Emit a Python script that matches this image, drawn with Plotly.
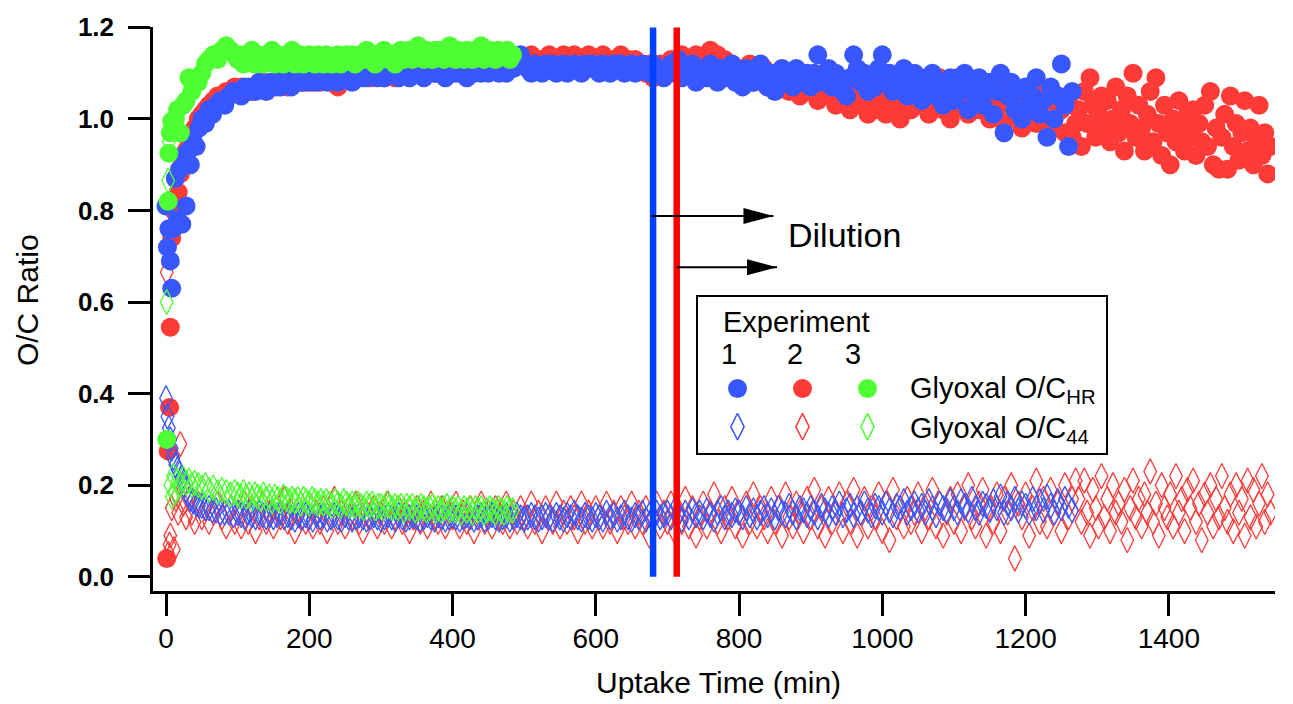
import plotly.graph_objects as go

# ---------------- data ----------------
# Experiment 1 (blue)
t1 = [0, 2, 4, 6, 8, 10, 13, 16, 19, 22, 25, 28, 31, 34, 38, 42, 46, 50, 55, 60, 65, 70, 76, 82, 88, 94,
      100, 105, 110, 115, 120, 125, 130, 135, 140, 145,
      150, 155, 160, 165, 170, 175, 180, 185, 190, 195,
      200, 205, 210, 215, 220, 225, 230, 235, 240, 245,
      250, 255, 260, 265, 270, 275, 280, 285, 290, 295,
      300, 305, 310, 315, 320, 325, 330, 335, 340, 345,
      350, 355, 360, 365, 370, 375, 380, 385, 390, 395,
      400, 405, 410, 415, 420, 425, 430, 435, 440, 445,
      450, 455, 460, 465, 470, 475, 480, 485, 490, 495,
      500, 505, 510, 515, 520, 525, 530, 535, 540, 545,
      550, 555, 560, 565, 570, 575, 580, 585, 590, 595,
      600, 605, 610, 615, 620, 625, 630, 635, 640, 645,
      650, 655, 660, 665, 670, 675, 680, 685, 690, 695,
      700, 705, 710, 715, 720, 725, 730, 735, 740, 745,
      750, 755, 760, 765, 770, 775, 780, 785, 790, 795,
      800, 805, 810, 815, 820, 825, 830, 835, 840, 845,
      850, 855, 860, 865, 870, 875, 880, 885, 890, 895,
      900, 905, 910, 915, 920, 925, 930, 935, 940, 945,
      950, 955, 960, 965, 970, 975, 980, 985, 990, 995,
      1000, 1005, 1010, 1015, 1020, 1025, 1030, 1035, 1040, 1045,
      1050, 1055, 1060, 1065, 1070, 1075, 1080, 1085, 1090, 1095,
      1100, 1105, 1110, 1115, 1120, 1125, 1130, 1135, 1140, 1145,
      1150, 1155, 1160, 1165, 1170, 1175, 1180, 1185, 1190, 1195,
      1200, 1205, 1210, 1215, 1220, 1225, 1230, 1235, 1240, 1245,
      1250, 1255, 1260, 1265]
hr1 = [0.81, 0.72, 0.76, 0.69, 0.63, 0.76, 0.87, 0.78, 0.89, 0.77, 0.92, 0.81, 0.93, 0.90, 0.95, 0.94, 0.98, 1.00, 0.99, 1.02,
       1.01, 1.03, 1.04, 1.03, 1.05, 1.06,
       1.06, 1.05, 1.07, 1.06, 1.07, 1.06, 1.08, 1.07, 1.06, 1.08,
       1.07, 1.08, 1.07, 1.09, 1.08, 1.07, 1.08, 1.09, 1.08, 1.09,
       1.08, 1.09, 1.08, 1.10, 1.09, 1.08, 1.09, 1.10, 1.08, 1.09,
       1.10, 1.09, 1.08, 1.10, 1.09, 1.10, 1.09, 1.10, 1.11, 1.09,
       1.10, 1.09, 1.11, 1.10, 1.10, 1.09, 1.11, 1.10, 1.09, 1.10,
       1.11, 1.10, 1.09, 1.10, 1.11, 1.10, 1.10, 1.11, 1.09, 1.10,
       1.11, 1.10, 1.10, 1.11, 1.09, 1.11, 1.10, 1.12, 1.10, 1.11,
       1.10, 1.11, 1.12, 1.10, 1.11, 1.10, 1.12, 1.11, 1.13, 1.14,
       1.12, 1.11, 1.10, 1.12, 1.11, 1.10, 1.12, 1.11, 1.12, 1.10,
       1.11, 1.12, 1.10, 1.11, 1.12, 1.11, 1.10, 1.12, 1.11, 1.12,
       1.11, 1.10, 1.12, 1.11, 1.10, 1.12, 1.11, 1.12, 1.10, 1.11,
       1.12, 1.10, 1.11, 1.12, 1.11, 1.10, 1.12, 1.11, 1.10, 1.09,
       1.11, 1.12, 1.10, 1.13, 1.09, 1.11, 1.10, 1.12, 1.08, 1.10,
       1.11, 1.09, 1.12, 1.10, 1.08, 1.11, 1.09, 1.10, 1.12, 1.08,
       1.10, 1.07, 1.11, 1.09, 1.08, 1.10, 1.12, 1.09, 1.07, 1.10,
       1.06, 1.09, 1.11, 1.08, 1.10, 1.07, 1.11, 1.09, 1.08, 1.10,
       1.07, 1.10, 1.14, 1.08, 1.09, 1.11, 1.07, 1.10, 1.08, 1.06,
       1.05, 1.09, 1.14, 1.11, 1.08, 1.10, 1.06, 1.09, 1.07, 1.11,
       1.14, 1.08, 1.10, 1.06, 1.09, 1.07, 1.11, 1.05, 1.08, 1.10,
       1.07, 1.04, 1.09, 1.06, 1.10, 1.05, 1.08, 1.03, 1.07, 1.09,
       1.04, 1.09, 1.06, 1.10, 1.02, 1.07, 1.05, 1.09, 1.03, 1.06,
       1.08, 1.01, 1.06, 1.10, 0.97, 1.05, 1.08, 1.02, 1.06, 1.00,
       1.07, 1.03, 1.05, 1.09, 1.01, 1.04, 0.96, 1.07, 1.00, 1.05,
       1.12, 1.03, 0.94, 1.06]
oc44_1 = [0.39, 0.35, 0.325, 0.30, 0.28, 0.26, 0.245, 0.235, 0.225, 0.215, 0.20, 0.19, 0.18, 0.17, 0.165, 0.16, 0.155, 0.155,
          0.15, 0.15, 0.145, 0.145, 0.14, 0.14, 0.14, 0.135,
          0.14, 0.135, 0.13, 0.14, 0.135, 0.13, 0.14, 0.135, 0.13, 0.135,
          0.13, 0.135, 0.14, 0.13, 0.135, 0.13, 0.125, 0.135, 0.13, 0.135,
          0.13, 0.125, 0.135, 0.13, 0.135, 0.125, 0.13, 0.135, 0.13, 0.125,
          0.135, 0.13, 0.125, 0.13, 0.135, 0.13, 0.125, 0.13, 0.135, 0.13,
          0.125, 0.13, 0.135, 0.13, 0.125, 0.135, 0.13, 0.125, 0.13, 0.135,
          0.13, 0.125, 0.13, 0.135, 0.13, 0.125, 0.135, 0.13, 0.125, 0.13,
          0.135, 0.13, 0.125, 0.13, 0.135, 0.13, 0.125, 0.13, 0.135, 0.125,
          0.13, 0.135, 0.13, 0.125, 0.13, 0.135, 0.125, 0.13, 0.135, 0.13,
          0.125, 0.13, 0.135, 0.13, 0.125, 0.13, 0.135, 0.13, 0.125, 0.135,
          0.13, 0.125, 0.135, 0.13, 0.14, 0.13, 0.125, 0.135, 0.13, 0.125,
          0.135, 0.13, 0.125, 0.14, 0.13, 0.135, 0.125, 0.13, 0.14, 0.13,
          0.125, 0.135, 0.13, 0.14, 0.125, 0.135, 0.13, 0.14, 0.13, 0.135,
          0.14, 0.13, 0.145, 0.135, 0.125, 0.14, 0.13, 0.145, 0.135, 0.14,
          0.13, 0.145, 0.135, 0.125, 0.14, 0.15, 0.13, 0.14, 0.135, 0.145,
          0.14, 0.13, 0.15, 0.135, 0.145, 0.13, 0.14, 0.15, 0.135, 0.145,
          0.13, 0.15, 0.14, 0.135, 0.155, 0.14, 0.13, 0.15, 0.145, 0.135,
          0.15, 0.14, 0.13, 0.155, 0.145, 0.135, 0.15, 0.14, 0.16, 0.135,
          0.145, 0.155, 0.135, 0.15, 0.14, 0.16, 0.145, 0.135, 0.155, 0.15,
          0.14, 0.16, 0.145, 0.135, 0.155, 0.15, 0.165, 0.14, 0.15, 0.16,
          0.145, 0.155, 0.14, 0.165, 0.15, 0.135, 0.16, 0.15, 0.145, 0.165,
          0.15, 0.14, 0.165, 0.155, 0.145, 0.17, 0.15, 0.14, 0.16, 0.155,
          0.145, 0.165, 0.15, 0.175, 0.14, 0.16, 0.15, 0.17, 0.145, 0.16,
          0.155, 0.14, 0.17, 0.15, 0.165, 0.145, 0.175, 0.155, 0.14, 0.165,
          0.15, 0.17, 0.155, 0.145]

# Experiment 2 (red)
t2 = [1, 3, 5, 6, 8, 11, 14, 17, 20, 24, 28, 32, 36, 40, 45, 50, 55, 60, 66, 72, 78, 84, 90, 96,
      100, 105, 110, 115, 120, 125, 130, 135, 140, 145,
      150, 155, 160, 165, 170, 175, 180, 185, 190, 195,
      200, 205, 210, 215, 220, 225, 230, 235, 240, 245,
      250, 255, 260, 265, 270, 275, 280, 285, 290, 295,
      300, 305, 310, 315, 320, 325, 330, 335, 340, 345,
      350, 355, 360, 365, 370, 375, 380, 385, 390, 395,
      400, 405, 410, 415, 420, 425, 430, 435, 440, 445,
      450, 455, 460, 465, 470, 475, 480, 485, 490, 495,
      500, 505, 510, 515, 520, 525, 530, 535, 540, 545,
      550, 555, 560, 565, 570, 575, 580, 585, 590, 595,
      600, 605, 610, 615, 620, 625, 630, 635, 640, 645,
      650, 655, 660, 665, 670, 675, 680, 685, 690, 695,
      700, 705, 710, 715, 720, 725, 730, 735, 740, 745,
      750, 755, 760, 765, 770, 775, 780, 785, 790, 795,
      800, 805, 810, 815, 820, 825, 830, 835, 840, 845,
      850, 855, 860, 865, 870, 875, 880, 885, 890, 895,
      900, 905, 910, 915, 920, 925, 930, 935, 940, 945,
      950, 955, 960, 965, 970, 975, 980, 985, 990, 995,
      1000, 1005, 1010, 1015, 1020, 1025, 1030, 1035, 1040, 1045,
      1050, 1055, 1060, 1065, 1070, 1075, 1080, 1085, 1090, 1095,
      1100, 1105, 1110, 1115, 1120, 1125, 1130, 1135, 1140, 1145,
      1150, 1155, 1160, 1165, 1170, 1175, 1180, 1185, 1190, 1195,
      1200, 1205, 1210, 1215, 1220, 1225, 1230, 1235, 1240, 1245,
      1250, 1255, 1260, 1265, 1270,
      1274, 1278, 1282, 1286, 1290, 1294, 1298, 1302, 1306, 1310,
      1314, 1318, 1322, 1326, 1330, 1334, 1338, 1342, 1346, 1350,
      1354, 1358, 1362, 1366, 1370, 1374, 1378, 1382, 1386, 1390,
      1394, 1398, 1402, 1406, 1410, 1414, 1418, 1422, 1426, 1430,
      1434, 1438, 1442, 1446, 1450, 1454, 1458, 1462, 1466, 1470,
      1474, 1478, 1482, 1486, 1490, 1494, 1498, 1502, 1506, 1510,
      1514, 1518, 1522, 1526, 1530, 1534, 1538, 1542]
hr2 = [0.04, 0.275, 0.37, 0.545, 0.74, 0.80, 0.82, 0.84, 0.88, 0.91, 0.93, 0.95, 0.97, 0.98, 1.00, 1.01, 1.02, 1.03,
       1.04, 1.05, 1.05, 1.06, 1.06, 1.07,
       1.06, 1.07, 1.06, 1.07, 1.06, 1.07, 1.07, 1.08, 1.07, 1.07,
       1.08, 1.07, 1.08, 1.08, 1.07, 1.08, 1.08, 1.09, 1.08, 1.08,
       1.09, 1.08, 1.09, 1.08, 1.09, 1.09, 1.08, 1.09, 1.07, 1.09,
       1.09, 1.10, 1.09, 1.09, 1.10, 1.09, 1.10, 1.09, 1.10, 1.10,
       1.10, 1.09, 1.10, 1.10, 1.09, 1.10, 1.10, 1.11, 1.10, 1.10,
       1.10, 1.11, 1.10, 1.10, 1.11, 1.10, 1.10, 1.11, 1.10, 1.11,
       1.10, 1.11, 1.11, 1.10, 1.11, 1.11, 1.10, 1.11, 1.11, 1.12,
       1.11, 1.12, 1.11, 1.12, 1.13, 1.11, 1.12, 1.12, 1.13, 1.12,
       1.13, 1.12, 1.14, 1.12, 1.13, 1.11, 1.13, 1.14, 1.12, 1.13,
       1.12, 1.14, 1.13, 1.12, 1.14, 1.13, 1.12, 1.13, 1.14, 1.12,
       1.13, 1.12, 1.14, 1.13, 1.11, 1.13, 1.12, 1.14, 1.12, 1.13,
       1.12, 1.13, 1.11, 1.12, 1.10, 1.12, 1.09, 1.11, 1.12, 1.10,
       1.12, 1.13, 1.11, 1.12, 1.14, 1.12, 1.13, 1.11, 1.14, 1.13,
       1.12, 1.14, 1.15, 1.13, 1.14, 1.12, 1.13, 1.11, 1.12, 1.10,
       1.11, 1.09, 1.10, 1.12, 1.08, 1.10, 1.09, 1.11, 1.07, 1.09,
       1.08, 1.10, 1.07, 1.09, 1.06, 1.08, 1.10, 1.05, 1.07, 1.09,
       1.06, 1.08, 1.04, 1.07, 1.09, 1.05, 1.07, 1.03, 1.06, 1.08,
       1.04, 1.02, 1.06, 1.08, 1.03, 1.05, 1.01, 1.07, 1.04, 1.02,
       1.05, 1.01, 1.06, 1.03, 1.07, 1.00, 1.04, 1.06, 1.02, 1.05,
       1.08, 1.03, 1.05, 1.01, 1.06, 1.04, 1.09, 1.02, 1.05, 1.00,
       1.07, 1.03, 1.05, 1.08, 1.01, 1.04, 1.06, 1.02, 1.07, 1.04,
       1.00, 1.05, 1.02, 1.07, 0.99, 1.04, 1.06, 1.01, 1.03, 0.98,
       1.05, 1.02, 1.07, 0.99, 1.03, 1.06, 1.00, 1.04, 0.98, 1.05,
       1.02, 0.97, 1.04, 0.96, 0.99,
       1.02, 0.94, 1.06, 0.99, 1.09, 1.03, 0.96, 1.01, 1.05, 0.98,
       1.04, 0.95, 1.00, 1.07, 0.97, 1.02, 0.93, 1.05, 0.99, 1.10,
       0.96, 1.03, 0.98, 0.93, 1.01, 1.06, 0.95, 1.09, 0.99, 0.92,
       1.03, 0.97, 0.90, 1.00, 0.95, 1.04, 0.98, 0.93, 1.01, 0.96,
       1.02, 0.92, 0.99, 0.95, 1.03, 0.94, 1.06, 0.90, 0.98, 0.89,
       0.96, 1.01, 0.89, 1.05, 0.94, 0.99, 0.91, 0.97, 1.04, 0.93,
       0.98, 0.90, 0.95, 1.03, 0.92, 0.97, 0.88, 0.94]
oc44_2 = [0.665, 0.05, 0.07, 0.09, 0.15, 0.06, 0.17, 0.14, 0.29, 0.16, 0.13, 0.17, 0.14, 0.12, 0.16, 0.13, 0.15, 0.12,
          0.14, 0.16, 0.13, 0.11, 0.15, 0.12,
          0.14, 0.11, 0.16, 0.12, 0.15, 0.10, 0.13, 0.16, 0.12, 0.14,
          0.11, 0.15, 0.13, 0.17, 0.12, 0.14, 0.10, 0.15, 0.13, 0.12,
          0.16, 0.11, 0.14, 0.12, 0.15, 0.10, 0.13, 0.17, 0.12, 0.14,
          0.11, 0.15, 0.13, 0.16, 0.12, 0.10, 0.14, 0.13, 0.15, 0.11,
          0.14, 0.12, 0.16, 0.11, 0.13, 0.15, 0.12, 0.14, 0.10, 0.13,
          0.15, 0.12, 0.14, 0.11, 0.16, 0.13, 0.12, 0.15, 0.11, 0.14,
          0.13, 0.16, 0.11, 0.14, 0.12, 0.15, 0.10, 0.13, 0.16, 0.12,
          0.14, 0.11, 0.15, 0.13, 0.12, 0.16, 0.11, 0.14, 0.12, 0.15,
          0.13, 0.11, 0.16, 0.12, 0.14, 0.10, 0.15, 0.13, 0.12, 0.16,
          0.11, 0.14, 0.12, 0.15, 0.13, 0.10, 0.16, 0.12, 0.14, 0.11,
          0.15, 0.13, 0.11, 0.16, 0.12, 0.14, 0.10, 0.15, 0.13, 0.12,
          0.16, 0.11, 0.14, 0.12, 0.15, 0.09, 0.13, 0.16, 0.11, 0.14,
          0.12, 0.16, 0.10, 0.14, 0.12, 0.17, 0.11, 0.15, 0.09, 0.13,
          0.16, 0.11, 0.14, 0.18, 0.12, 0.10, 0.15, 0.13, 0.17, 0.11,
          0.14, 0.09, 0.16, 0.12, 0.18, 0.11, 0.15, 0.13, 0.10, 0.17,
          0.12, 0.15, 0.09, 0.18, 0.13, 0.11, 0.16, 0.14, 0.10, 0.17,
          0.13, 0.19, 0.11, 0.15, 0.09, 0.17, 0.12, 0.14, 0.18, 0.10,
          0.16, 0.12, 0.19, 0.09, 0.14, 0.17, 0.11, 0.15, 0.13, 0.18,
          0.10, 0.16, 0.08, 0.19, 0.13, 0.15, 0.11, 0.17, 0.12, 0.14,
          0.18, 0.10, 0.15, 0.13, 0.19, 0.11, 0.16, 0.09, 0.14, 0.17,
          0.12, 0.18, 0.10, 0.15, 0.20, 0.13, 0.11, 0.16, 0.19, 0.09,
          0.15, 0.12, 0.18, 0.10, 0.17, 0.14, 0.20, 0.04, 0.16, 0.13,
          0.18, 0.09, 0.15, 0.21, 0.12, 0.17, 0.11, 0.19, 0.14, 0.16,
          0.10, 0.20, 0.13, 0.17, 0.21,
          0.17, 0.12, 0.21, 0.14, 0.09, 0.19, 0.15, 0.11, 0.22, 0.13,
          0.17, 0.10, 0.20, 0.14, 0.16, 0.12, 0.19, 0.08, 0.15, 0.21,
          0.13, 0.17, 0.11, 0.18, 0.14, 0.23, 0.12, 0.16, 0.09, 0.20,
          0.15, 0.13, 0.18, 0.11, 0.22, 0.14, 0.17, 0.10, 0.19, 0.15,
          0.21, 0.12, 0.16, 0.08, 0.18, 0.14, 0.20, 0.11, 0.17, 0.13,
          0.22, 0.15, 0.12, 0.18, 0.10, 0.20, 0.14, 0.17, 0.09, 0.21,
          0.13, 0.19, 0.11, 0.16, 0.22, 0.12, 0.18, 0.14]

# Experiment 3 (green)
t3 = [1, 3, 4, 6, 8, 10, 13, 16, 20, 24, 28, 32, 36, 40, 45, 50, 55, 60, 66, 72, 78, 84, 90, 96,
      100, 104, 108, 112, 116, 120, 124, 128, 132, 136,
      140, 144, 148, 152, 156, 160, 164, 168, 172, 176,
      180, 184, 188, 192, 196, 200, 204, 208, 212, 216,
      220, 224, 228, 232, 236, 240, 244, 248, 252, 256,
      260, 264, 268, 272, 276, 280, 284, 288, 292, 296,
      300, 304, 308, 312, 316, 320, 324, 328, 332, 336,
      340, 344, 348, 352, 356, 360, 364, 368, 372, 376,
      380, 384, 388, 392, 396, 400, 404, 408, 412, 416,
      420, 424, 428, 432, 436, 440, 444, 448, 452, 456,
      460, 464, 468, 472, 476, 480, 484]
hr3 = [0.30, 0.82, 0.925, 0.97, 0.995, 0.98, 1.00, 1.02, 0.97, 1.03, 1.04, 1.09, 1.06, 1.08, 1.08, 1.10, 1.12, 1.13,
       1.14, 1.13, 1.15, 1.16, 1.15, 1.14,
       1.13, 1.14, 1.12, 1.14, 1.13, 1.15, 1.12, 1.14, 1.13, 1.12,
       1.14, 1.13, 1.15, 1.12, 1.14, 1.13, 1.12, 1.14, 1.13, 1.15,
       1.12, 1.13, 1.14, 1.12, 1.13, 1.14, 1.13, 1.12, 1.14, 1.13,
       1.12, 1.14, 1.13, 1.12, 1.13, 1.14, 1.12, 1.13, 1.14, 1.13,
       1.14, 1.12, 1.13, 1.14, 1.13, 1.15, 1.13, 1.14, 1.12, 1.14,
       1.13, 1.15, 1.14, 1.13, 1.14, 1.12, 1.14, 1.15, 1.13, 1.14,
       1.15, 1.13, 1.14, 1.16, 1.14, 1.13, 1.15, 1.14, 1.13, 1.15,
       1.14, 1.15, 1.13, 1.14, 1.16, 1.14, 1.13, 1.15, 1.14, 1.13,
       1.15, 1.14, 1.13, 1.15, 1.14, 1.16, 1.13, 1.14, 1.15, 1.14,
       1.13, 1.15, 1.14, 1.14, 1.15, 1.13, 1.14]
oc44_3 = [0.60, 0.865, 0.95, 0.20, 0.175, 0.22, 0.185, 0.21, 0.20, 0.215, 0.205, 0.21, 0.20, 0.205, 0.20, 0.195, 0.20,
          0.19, 0.195, 0.185, 0.19, 0.185, 0.18, 0.185,
          0.18, 0.175, 0.185, 0.175, 0.18, 0.17, 0.18, 0.175, 0.17, 0.18,
          0.17, 0.175, 0.165, 0.175, 0.17, 0.165, 0.175, 0.17, 0.165, 0.17,
          0.165, 0.17, 0.16, 0.17, 0.165, 0.16, 0.17, 0.165, 0.16, 0.165,
          0.16, 0.165, 0.16, 0.155, 0.165, 0.16, 0.155, 0.165, 0.16, 0.155,
          0.16, 0.155, 0.16, 0.155, 0.15, 0.16, 0.155, 0.16, 0.15, 0.155,
          0.155, 0.15, 0.16, 0.155, 0.15, 0.155, 0.15, 0.155, 0.145, 0.155,
          0.15, 0.155, 0.145, 0.15, 0.155, 0.15, 0.145, 0.15, 0.155, 0.145,
          0.15, 0.145, 0.15, 0.155, 0.145, 0.15, 0.145, 0.15, 0.14, 0.15,
          0.145, 0.15, 0.14, 0.15, 0.145, 0.15, 0.14, 0.145, 0.15, 0.145,
          0.14, 0.15, 0.145, 0.14, 0.15, 0.145, 0.145]

dilution_exp1 = 680   # min
dilution_exp2 = 713   # min

x_tick_vals = [0, 200, 400, 600, 800, 1000, 1200, 1400]
y_tick_vals = [0.0, 0.2, 0.4, 0.6, 0.8, 1.0, 1.2]
y_tick_text = ["0.0", "0.2", "0.4", "0.6", "0.8", "1.0", "1.2"]

for a, b in [(t1, hr1), (t1, oc44_1), (t2, hr2), (t2, oc44_2), (t3, hr3), (t3, oc44_3)]:
    assert len(a) == len(b), (len(a), len(b))

# ---------------- styling ----------------
W, H = 1293, 704
L, R, T, B = 153, 18, 23, 113
PW, PH = W - L - R, H - T - B
FONT = "Liberation Sans, Arial, sans-serif"
BLUE, RED, GREEN = "#3857FF", "#FF3B38", "#4EFF33"
LINE_BLUE, LINE_RED = "#0040FF", "#FF0000"
CIRCLE = 19
DIAM = 18


def px(x):
    return (x - L) / PW


def py(y):
    return (H - B - y) / PH


fig = go.Figure()

series = [
    (t2, hr2, oc44_2, RED),
    (t1, hr1, oc44_1, BLUE),
    (t3, hr3, oc44_3, GREEN),
]
for t, hr, oc, col in series:
    fig.add_trace(go.Scatter(x=t, y=hr, mode="markers", showlegend=False, hoverinfo="skip",
                             marker=dict(symbol="circle", size=CIRCLE, color=col, line=dict(width=0))))
    fig.add_trace(go.Scatter(x=t, y=oc, mode="markers", showlegend=False, hoverinfo="skip",
                             marker=dict(symbol="diamond-tall-open", size=DIAM, color=col,
                                         line=dict(width=1.3, color=col))))

# legend glyphs on an overlay axis measured in pixels
leg_x = [737.5, 802.5, 867.5]
leg_cols = [BLUE, RED, GREEN]
fig.add_trace(go.Scatter(x=leg_x, y=[387] * 3, xaxis="x2", yaxis="y2", mode="markers", showlegend=False,
                         hoverinfo="skip", cliponaxis=False,
                         marker=dict(symbol="circle", size=19, color=leg_cols, line=dict(width=0))))
fig.add_trace(go.Scatter(x=leg_x, y=[425.5] * 3, xaxis="x2", yaxis="y2", mode="markers", showlegend=False,
                         hoverinfo="skip", cliponaxis=False,
                         marker=dict(symbol="diamond-tall-open", size=19, color=leg_cols,
                                     line=dict(width=1.5, color=leg_cols))))

x_range = [(L - 166) / 0.7163, (W - R - 166) / 0.7163]
y_range = [(576.7 - (H - B)) / 461.1, (576.7 - T) / 461.1]

axis_common = dict(showline=True, linecolor="black", linewidth=2.5, ticks="outside", ticklen=22,
                   tickwidth=2.5, tickcolor="black", showgrid=False, zeroline=False, mirror=False)

fig.update_layout(
    width=W, height=H, margin=dict(l=L, r=R, t=T, b=B, pad=0),
    paper_bgcolor="white", plot_bgcolor="rgba(0,0,0,0)",
    xaxis=dict(range=x_range, tickvals=x_tick_vals, ticklabelstandoff=-1,
               tickfont=dict(family=FONT, size=28, color="black"), **axis_common),
    yaxis=dict(range=y_range, tickvals=y_tick_vals, ticktext=y_tick_text, ticklabelstandoff=9,
               tickfont=dict(family=FONT, size=26, color="black", weight="bold"), **axis_common),
    xaxis2=dict(domain=[0, 1], anchor="y2", overlaying="x", range=[L, W - R], visible=False, fixedrange=True),
    yaxis2=dict(domain=[0, 1], anchor="x2", overlaying="y", range=[H - B, T], visible=False, fixedrange=True),
)

shapes = []
# dilution lines
for xv, col in [(dilution_exp1, LINE_BLUE), (dilution_exp2, LINE_RED)]:
    shapes.append(dict(type="line", xref="x", yref="y", x0=xv, x1=xv, y0=0, y1=1.2,
                       line=dict(color=col, width=6.5), layer="above"))
# arrows
for x0, x1, yv in [(678, 848, 0.788), (713, 853, 0.676)]:
    shapes.append(dict(type="line", xref="x", yref="y", x0=x0, x1=x1, y0=yv, y1=yv,
                       line=dict(color="black", width=2)))
    shapes.append(dict(type="path", xref="x", yref="y", xsizemode="pixel", ysizemode="pixel",
                       xanchor=x1, yanchor=yv, path="M0,0 L-30,8 L-30,-8 Z",
                       fillcolor="black", line=dict(width=0)))
# legend frame
shapes.append(dict(type="rect", xref="paper", yref="paper", x0=px(697), x1=px(1107), y0=py(453), y1=py(294),
                   line=dict(color="black", width=2), fillcolor="rgba(0,0,0,0)"))
fig.update_layout(shapes=shapes)

ann = []
ann.append(dict(text="Uptake Time (min)", x=px(718), y=py(683), xref="paper", yref="paper", showarrow=False,
                xanchor="center", yanchor="middle", font=dict(family=FONT, size=30, color="black")))
ann.append(dict(text="O/C Ratio", x=px(27), y=py(298), xref="paper", yref="paper", showarrow=False,
                textangle=-90, xanchor="center", yanchor="middle", font=dict(family=FONT, size=30, color="black")))
ann.append(dict(text="Dilution", x=px(845), y=py(232), xref="paper", yref="paper", showarrow=False,
                xanchor="center", yanchor="middle", font=dict(family=FONT, size=34, color="black")))
ann.append(dict(text="Experiment", x=px(721), y=py(320), xref="paper", yref="paper", showarrow=False,
                xanchor="left", yanchor="middle", font=dict(family=FONT, size=29, color="black")))
for lab, xc in [("1", 729), ("2", 795), ("3", 853)]:
    ann.append(dict(text=lab, x=px(xc), y=py(352), xref="paper", yref="paper", showarrow=False,
                    xanchor="center", yanchor="middle", font=dict(family=FONT, size=29, color="black")))
ann.append(dict(text="Glyoxal O/C<sub>HR</sub>", x=px(908), y=py(389), xref="paper", yref="paper",
                showarrow=False, xanchor="left", yanchor="middle", font=dict(family=FONT, size=29, color="black")))
ann.append(dict(text="Glyoxal O/C<sub>44</sub>", x=px(908), y=py(429), xref="paper", yref="paper",
                showarrow=False, xanchor="left", yanchor="middle", font=dict(family=FONT, size=29, color="black")))
fig.update_layout(annotations=ann)

fig.write_html("out.html")
